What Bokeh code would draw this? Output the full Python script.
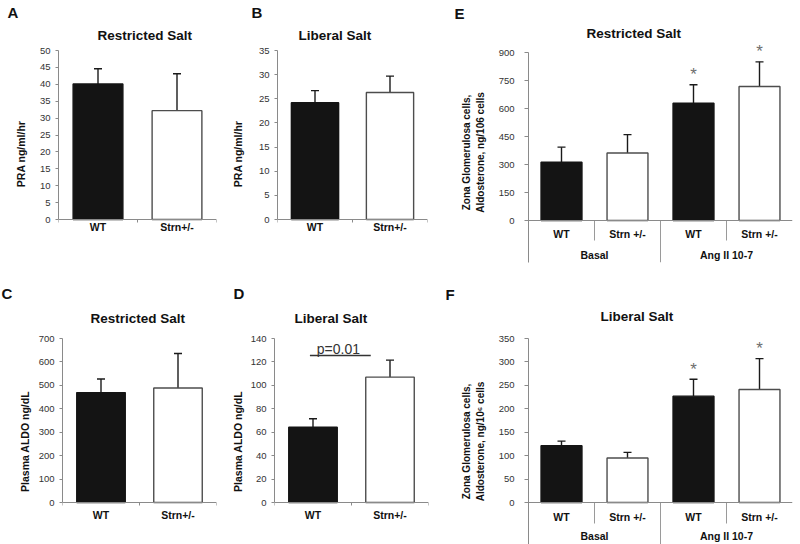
from bokeh.plotting import figure
from bokeh.models import (Range1d, LinearAxis, FixedTicker, Title, Whisker,
                          TeeHead, ColumnDataSource, Span)
from bokeh.layouts import row, column
from bokeh.embed import file_html
from bokeh.resources import INLINE
from bokeh.core.properties import value

FONT = "Liberation Sans"

# ---------------- data ----------------
genotypes = ["WT", "Strn+/-"]

a_mean = [40.1, 32.2]
a_err = [4.5, 10.9]
a_ticks = [0, 5, 10, 15, 20, 25, 30, 35, 40, 45, 50]

b_mean = [24.2, 26.3]
b_err = [2.5, 3.4]
b_ticks = [0, 5, 10, 15, 20, 25, 30, 35]

c_mean = [469, 489]
c_err = [58, 147]
c_ticks = [0, 100, 200, 300, 400, 500, 600, 700]

d_mean = [64.3, 107.0]
d_err = [7.2, 14.5]
d_ticks = [0, 20, 40, 60, 80, 100, 120, 140]
d_pvalue = "p=0.01"
d_pvalue_level = 125.5

zg_genotypes = ["WT", "Strn +/-", "WT", "Strn +/-"]
zg_treatments = ["Basal", "Ang II 10-7"]

e_mean = [312, 362, 628, 718]
e_err = [81, 98, 99, 132]
e_sig = ["", "", "*", "*"]
e_ticks = [0, 150, 300, 450, 600, 750, 900]

f_mean = [121, 95, 227, 241]
f_err = [10, 12, 36, 66]
f_sig = ["", "", "*", "*"]
f_ticks = [0, 50, 100, 150, 200, 250, 300, 350]

# ---------------- styles / geometry ----------------
DARK = "#141414"
AXIS_GREY = "#8a8a8a"
SEP_GREY = "#9a9a9a"
TICK_TXT = "#333333"
TITLE_PX = 13.5
LETTER_PX = 15.0

ROW1_H, ROW1_T, ROW1_B = 270, 42, 8      # frames span y 42..262
ROW2_H, ROW2_T, ROW2_B = 274, 68, 0      # frames span y 338..544 (page)


def fills(cats):
    return [DARK if c.startswith("WT") else "#ffffff" for c in cats]


def outlines(cats):
    return [DARK if c.startswith("WT") else "#4d4d4d" for c in cats]


def make_range(top_val, zero_px, top_px, frame_top, frame_bot):
    ppu = (zero_px - top_px) / float(top_val)
    return Range1d(-(frame_bot - zero_px) / ppu, (zero_px - frame_top) / ppu), ppu


def base(width, height, lr, tb, n, y_range):
    l, r = lr
    t, b = tb
    p = figure(width=width, height=height, x_range=Range1d(0, n), y_range=y_range,
               output_backend="svg", toolbar_location=None,
               x_axis_location=None, y_axis_location=None,
               min_border_left=l, min_border_right=r,
               min_border_top=t, min_border_bottom=b)
    p.outline_line_color = None
    p.grid.visible = False
    p.background_fill_color = "white"
    p.border_fill_color = "white"
    return p


def y_axis(p, ticks, label, label_standoff, bounds, tick_out=3, standoff=5, size="10.5px"):
    ax = LinearAxis(ticker=FixedTicker(ticks=ticks), axis_label=label, bounds=bounds)
    ax.axis_line_color = AXIS_GREY
    ax.major_tick_line_color = AXIS_GREY
    ax.major_tick_out = tick_out
    ax.major_tick_in = 0
    ax.minor_tick_line_color = None
    ax.major_label_text_font = FONT
    ax.major_label_text_font_size = "9.5px"
    ax.major_label_text_color = TICK_TXT
    ax.major_label_standoff = standoff
    ax.axis_label_text_font = FONT
    ax.axis_label_text_font_size = size
    ax.axis_label_text_font_style = "bold"
    ax.axis_label_text_color = "#111111"
    ax.axis_label_standoff = label_standoff
    p.add_layout(ax, "left")


def bars(p, cats, mean, err, width):
    xs = [i + 0.5 for i in range(len(cats))]
    p.vbar(x=xs, top=mean, bottom=0, width=width, fill_color=fills(cats),
           line_color=outlines(cats), line_width=1.4)
    src = ColumnDataSource(dict(x=xs, lower=mean,
                                upper=[m + e for m, e in zip(mean, err)]))
    w = Whisker(source=src, base="x", lower="lower", upper="upper",
                dimension="height", line_color="#1a1a1a", line_width=1.4,
                upper_head=TeeHead(size=8, line_color="#1a1a1a", line_width=1.4),
                lower_head=None)
    p.add_layout(w)
    return xs


def cat_text(p, xs, labels, off):
    p.text(x=xs, y=[0] * len(xs), text=labels, y_offset=off, text_align="center",
           text_baseline="middle", text_font=value(FONT), text_font_size="10.5px",
           text_font_style="bold", text_color="#111111")


def flat_categories(p, cats, ppu, label_off):
    n = len(cats)
    xs = [i + 0.5 for i in range(n)]
    bounds = list(range(n + 1))
    p.add_layout(Span(location=0, dimension="width", line_color=AXIS_GREY, line_width=1))
    p.segment(x0=bounds, y0=[0] * len(bounds), x1=bounds, y1=[-3 / ppu] * len(bounds),
              line_color=AXIS_GREY, line_width=1)
    cat_text(p, xs, cats, label_off)


def nested_categories(p, inner, groups, ppu, inner_off, group_off, inner_sep_px):
    """Excel style two-level category table drawn below the zero line."""
    n = len(inner)
    per = n // len(groups)
    xs = [i + 0.5 for i in range(n)]
    gx = [g * per + per / 2 for g in range(len(groups))]
    inner_bounds = [i for i in range(1, n) if i % per]
    group_bounds = [i for i in range(1, n) if i % per == 0]
    ybot = p.y_range.start
    p.add_layout(Span(location=0, dimension="width", line_color=AXIS_GREY, line_width=1))
    p.segment(x0=inner_bounds, y0=[0] * len(inner_bounds), x1=inner_bounds,
              y1=[-inner_sep_px / ppu] * len(inner_bounds),
              line_color=SEP_GREY, line_width=1)
    p.segment(x0=group_bounds, y0=[0] * len(group_bounds), x1=group_bounds,
              y1=[ybot] * len(group_bounds), line_color=SEP_GREY, line_width=1)
    cat_text(p, xs, inner, inner_off)
    cat_text(p, gx, groups, group_off)


def headings(p, title, t_left, t_cy, letter, l_left, l_cy, frame_left, frame_top):
    """Two stacked Titles above the frame; positions in figure pixels."""
    h1 = 1.117 * TITLE_PX
    h2 = 1.117 * LETTER_PX
    dt = frame_top - t_cy
    s1 = 2 * (dt - 2 - h1 / 2)
    if s1 >= 0:
        va1 = "top"
    else:
        va1 = "bottom"
        s1 = 2 * (dt - h1 / 2)
    s1 = int(round(s1))
    H1 = 2 + h1 + s1
    pb = frame_top - H1
    s2 = 2 * (pb - 2 - h2 / 2 - l_cy)
    if s2 >= 0:
        va2 = "top"
    else:
        va2 = "bottom"
        s2 = 2 * (pb - h2 / 2 - l_cy)
    s2 = int(round(s2))
    p.add_layout(Title(text=title, align="left", offset=t_left - frame_left,
                       vertical_align=va1, standoff=s1, text_font=FONT,
                       text_font_size=f"{TITLE_PX}px", text_font_style="bold",
                       text_color="#111111"), "above")
    p.add_layout(Title(text=letter, align="left", offset=l_left - frame_left,
                       vertical_align=va2, standoff=s2, text_font=FONT,
                       text_font_size=f"{LETTER_PX}px", text_font_style="bold",
                       text_color="#111111"), "above")


def stars(p, xs, mean, err, sig):
    p.text(x=xs, y=[m + e for m, e in zip(mean, err)], text=sig,
           text_align="center", text_baseline="middle", y_offset=-10,
           text_color="#6e6e6e", text_font=value(FONT), text_font_size="17px")


R1 = (ROW1_T, ROW1_B)
R2 = (ROW2_T, ROW2_B)
F1 = (ROW1_T, ROW1_H - ROW1_B)   # frame top / bottom in figure pixels, row 1
F2 = (ROW2_T, ROW2_H - ROW2_B)   # row 2 (figure starts at page y=270)

# ---------------- panel A ----------------
a_range, a_ppu = make_range(max(a_ticks), 219, 50, *F1)
pA = base(228, ROW1_H, (58, 12), R1, len(genotypes), a_range)
bars(pA, genotypes, a_mean, a_err, 0.63)
y_axis(pA, a_ticks, "PRA  ng/ml/hr", 10, (0, max(a_ticks)))
flat_categories(pA, genotypes, a_ppu, 7.5)
headings(pA, "Restricted Salt", 97, 34.5, "A", 7, 12, 58, ROW1_T)

# ---------------- panel B ----------------
b_range, b_ppu = make_range(max(b_ticks), 219, 50, *F1)
pB = base(217, ROW1_H, (44, 18), R1, len(genotypes), b_range)
bars(pB, genotypes, b_mean, b_err, 0.63)
y_axis(pB, b_ticks, "PRA  ng/ml/hr", 12, (0, max(b_ticks)))
flat_categories(pB, genotypes, b_ppu, 7.5)
headings(pB, "Liberal Salt", 293 - 228, 34.5, "B", 246 - 228, 12, 44, ROW1_T)

# ---------------- panel E ----------------
e_range, e_ppu = make_range(max(e_ticks), 220, 52, *F1)
pE = base(355, ROW1_H, (83, 8), R1, len(zg_genotypes), e_range)
xsE = bars(pE, zg_genotypes, e_mean, e_err, 0.62)
y_axis(pE, e_ticks, "Zona Glomerulosa cells,\nAldosterone, ng/106 cells", 10,
       (e_range.start, max(e_ticks)), tick_out=4, standoff=10, size="10px")
nested_categories(pE, zg_genotypes, zg_treatments, e_ppu, 13, 34, 20)
stars(pE, xsE, e_mean, e_err, e_sig)
headings(pE, "Restricted Salt", 586 - 445, 33, "E", 454 - 445, 13, 83, ROW1_T)

# ---------------- panel C ----------------
c_range, c_ppu = make_range(max(c_ticks), 502 - 270, 338 - 270, *F2)
pC = base(228, ROW2_H, (62, 12), R2, len(genotypes), c_range)
bars(pC, genotypes, c_mean, c_err, 0.63)
y_axis(pC, c_ticks, "Plasma ALDO ng/dL", 5, (0, max(c_ticks)))
flat_categories(pC, genotypes, c_ppu, 12)
headings(pC, "Restricted Salt", 90, 318 - 270, "C", 1, 293 - 270, 62, ROW2_T)

# ---------------- panel D ----------------
d_range, d_ppu = make_range(max(d_ticks), 502 - 270, 338 - 270, *F2)
pD = base(217, ROW2_H, (45, 17), R2, len(genotypes), d_range)
xsD = bars(pD, genotypes, d_mean, d_err, 0.63)
y_axis(pD, d_ticks, "Plasma ALDO ng/dL", 4, (0, max(d_ticks)))
flat_categories(pD, genotypes, d_ppu, 12)
headings(pD, "Liberal Salt", 293 - 228, 318 - 270, "D", 232 - 228, 293 - 270, 45, ROW2_T)
pD.segment(x0=[xsD[0] - 0.04], y0=[d_pvalue_level], x1=[xsD[1] - 0.25],
           y1=[d_pvalue_level], line_color="#333333", line_width=1.3)
pD.text(x=[(xsD[0] + xsD[1]) / 2 - 0.17], y=[d_pvalue_level], text=[d_pvalue],
        text_align="center", text_baseline="middle", y_offset=-6.5,
        text_color="#333333", text_font=value(FONT), text_font_size="14px")

# ---------------- panel F ----------------
f_range, f_ppu = make_range(max(f_ticks), 502 - 270, 338 - 270, *F2)
pF = base(355, ROW2_H, (83, 8), R2, len(zg_genotypes), f_range)
xsF = bars(pF, zg_genotypes, f_mean, f_err, 0.62)
y_axis(pF, f_ticks, "Zona Glomerulosa cells,\nAldosterone, ng/10\u2076 cells", 10,
       (f_range.start, max(f_ticks)), tick_out=4, standoff=10, size="10px")
nested_categories(pF, zg_genotypes, zg_treatments, f_ppu, 14.5, 33, 21)
stars(pF, xsF, f_mean, f_err, f_sig)
headings(pF, "Liberal Salt", 600 - 445, 315.7 - 270, "F", 445 - 445, 294 - 270, 83, ROW2_T)

layout = column(row(pA, pB, pE), row(pC, pD, pF))
open("out.html", "w").write(file_html(layout, INLINE))
